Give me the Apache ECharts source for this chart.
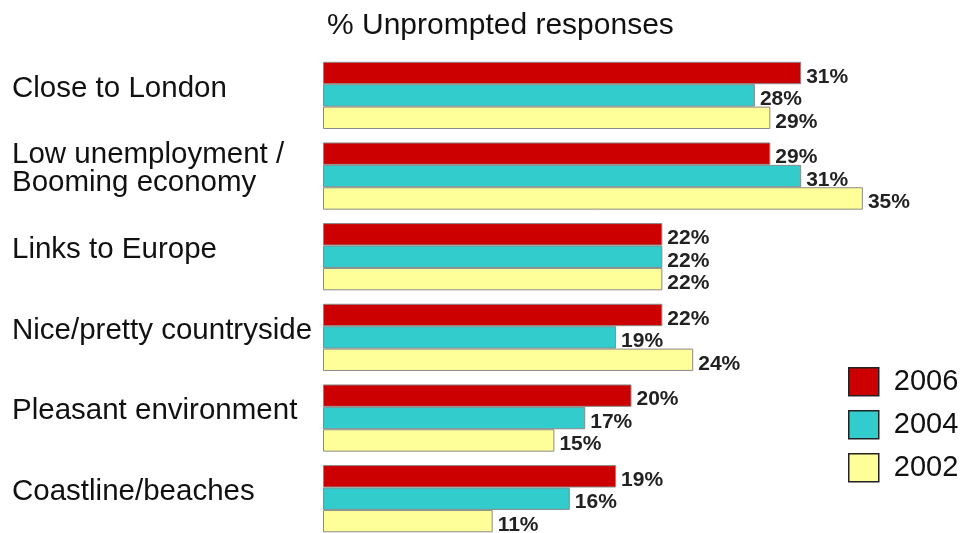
<!DOCTYPE html>
<html>
<head>
<meta charset="utf-8">
<script src="https://cdn.jsdelivr.net/npm/echarts@6/dist/echarts.min.js"></script>
<style>
html,body{margin:0;padding:0;background:#fff;}
#chart{width:961px;height:533px;}
</style>
</head>
<body>
<div id="chart"></div>
<script>
const categories = [
  'Close to London',
  'Low unemployment /\nBooming economy',
  'Links to Europe',
  'Nice/pretty countryside',
  'Pleasant environment',
  'Coastline/beaches'
];
const years = ['2006', '2004', '2002'];
const values2006 = [31, 29, 22, 22, 20, 19];
const values2004 = [28, 31, 22, 19, 17, 16];
const values2002 = [29, 35, 22, 24, 15, 11];
const titleText = '% Unprompted responses';

const colors = {'2006': '#CC0000', '2004': '#33CCCC', '2002': '#FFFF99'};
const seriesValues = {'2006': values2006, '2004': values2004, '2002': values2002};
const FONT = '"Liberation Sans", Arial, sans-serif';

const chart = echarts.init(document.getElementById('chart'), null, {renderer: 'canvas'});

const series = years.map(y => ({
  name: y,
  type: 'bar',
  xAxisIndex: 0,
  yAxisIndex: 0,
  data: seriesValues[y],
  barWidth: 22.4,
  barGap: '0%',
  itemStyle: {color: colors[y], borderColor: '#8a8a8a', borderWidth: 1},
  label: {
    show: true,
    position: 'right',
    distance: 5,
    offset: [0, 4],
    formatter: '{c}%',
    fontFamily: FONT,
    fontWeight: 'bold',
    fontSize: 21,
    color: '#222'
  },
  emphasis: {disabled: true},
  animation: false
}));

chart.setOption({
  backgroundColor: '#fff',
  animation: false,
  title: {
    text: titleText,
    left: 327,
    top: 11,
    padding: 0,
    textStyle: {fontFamily: FONT, fontWeight: 'normal', fontSize: 30, color: '#111'}
  },
  legend: {
    data: years,
    orient: 'vertical',
    left: 848,
    top: 367,
    padding: 0,
    itemWidth: 30,
    itemHeight: 28,
    itemGap: 13.5,
    icon: 'rect',
    itemStyle: {borderColor: '#222', borderWidth: 1.5},
    textStyle: {fontFamily: FONT, fontSize: 29, color: '#111', padding: [0, 0, 0, 10]}
  },
  grid: [
    {left: 323, top: 95.4, width: 617, height: 403.3, containLabel: false},
    {left: 323, top: 88.4, width: 617, height: 403.3, containLabel: false}
  ],
  xAxis: [
    {type: 'value', gridIndex: 0, min: 0, max: 40, show: false},
    {type: 'value', gridIndex: 1, min: 0, max: 40, show: false}
  ],
  yAxis: [
    {
      type: 'category',
      gridIndex: 0,
      data: categories,
      inverse: true,
      boundaryGap: false,
      axisLine: {show: false},
      axisTick: {show: false},
      splitLine: {show: false},
      axisLabel: {show: false}
    },
    {
      type: 'category',
      gridIndex: 1,
      data: categories,
      inverse: true,
      boundaryGap: false,
      axisLine: {show: false},
      axisTick: {show: false},
      splitLine: {show: false},
      axisLabel: {
        align: 'left',
        margin: 311,
        fontFamily: FONT,
        fontSize: 29.5,
        lineHeight: 28,
        color: '#111'
      }
    }
  ],
  series: series
});
</script>
</body>
</html>
